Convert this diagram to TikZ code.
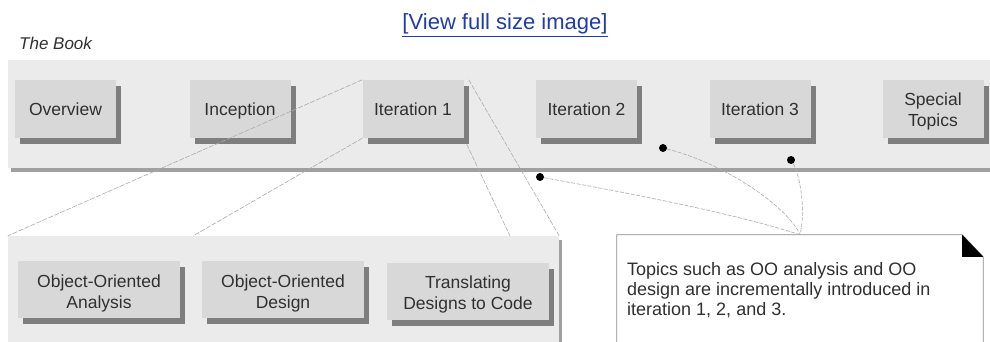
\documentclass[tikz,border=0pt]{standalone}
\usepackage{fontspec}
\setmainfont{Liberation Sans}
\usetikzlibrary{shadows}
\definecolor{band}{HTML}{EBEBEB}
\definecolor{face}{HTML}{D8D8D8}
\definecolor{shade}{HTML}{7E7E7E}
\definecolor{bandshade}{HTML}{A0A0A0}
\definecolor{ink}{HTML}{303030}
\definecolor{linkblue}{HTML}{1F3DA8}
\definecolor{conn}{HTML}{ABABAB}
\begin{document}
\begin{tikzpicture}[x=1pt,y=-1pt,
  panelstyle/.style={fill=band, inner sep=0pt, general shadow={fill=bandshade, shadow xshift=3pt, shadow yshift=-4pt}},
  boxstyle/.style={fill=face, inner sep=0pt, align=center, text=ink,
    font=\fontsize{17.5}{21}\selectfont,
    general shadow={fill=shade, shadow xshift=5pt, shadow yshift=-6pt}},
  topbox/.style={boxstyle, minimum width=101pt, minimum height=58pt},
  oneline/.style={text height=15pt, text depth=1pt},
  lowbox/.style={boxstyle, minimum width=162pt, minimum height=57pt},
  connline/.style={draw=conn, line width=0.6pt, dash pattern=on 5pt off 1.5pt},
  conncurve/.style={draw=conn, line width=0.6pt, dash pattern=on 4pt off 1.5pt},
  dotstyle/.style={circle, fill=black, inner sep=0pt, minimum size=8pt},
  notestyle/.style={inner sep=0pt, minimum width=366pt, minimum height=125pt}
]
\clip (0,0) rectangle (990,342);
\fill[white] (0,0) rectangle (990,342);

% texts at top
\node[anchor=base, inner sep=0pt, text=linkblue, font=\fontsize{22}{26}\selectfont] (link) at (505,30) {\underline{[View full size image]}};
\node[anchor=base west, inner sep=0pt, text=ink, font=\fontsize{17}{20}\selectfont\itshape] (title) at (19,50) {The Book};

% panels
\node[panelstyle, minimum width=992pt, minimum height=108pt] (band) at (504,114) {};
\node[panelstyle, general shadow={fill=bandshade, shadow xshift=3pt, shadow yshift=-5pt}, minimum width=551pt, minimum height=144pt] (lower) at (283.5,308) {};

% top row boxes
\node[topbox, oneline] (ov) at (65.5,109) {Overview};
\node[topbox, oneline] (inc) at (240,109) {Inception};
\node[topbox, oneline] (it1) at (413,109) {Iteration 1};
\node[topbox, oneline] (it2) at (586.5,109) {Iteration 2};
\node[topbox, oneline] (it3) at (760,109) {Iteration 3};
\node[topbox, text height=36pt, text depth=1.4pt] (spec) at (933,109) {Special\\Topics};

% lower row boxes
\node[lowbox, text height=39pt, text depth=1.4pt] (ooa) at (99,289.5) {Object-Oriented\\Analysis};
\node[lowbox, text height=39pt, text depth=1.4pt] (ood) at (283,289.5) {Object-Oriented\\Design};
\node[lowbox, text height=37pt, text depth=1.4pt] (trans) at (468,291.5) {Translating\\Designs to Code};

% expansion lines from Iteration 1 to the lower panel
\coordinate (p2) at (193,236);
\coordinate (p3) at (510,236);
\draw[connline] (it1.north west) -- (lower.north west);
\draw[connline] (it1.south west) -- (p2);
\draw[connline] ([xshift=5pt]it1.north east) -- (lower.north east);
\draw[connline] ([xshift=3pt,yshift=-6pt]it1.south east) -- (p3);

% note
\node[notestyle] (note) at (800,297.5) {};
\fill[white] (note.south west) -- (note.north west) -- ([xshift=-21pt]note.north east) -- ([yshift=-22pt]note.north east) -- (note.south east) -- cycle;
\draw[draw=conn!80!black, line width=0.8pt] (note.south west) -- (note.north west) -- ([xshift=-21pt]note.north east) -- ([yshift=-22pt]note.north east) -- (note.south east);
\fill[black] ([xshift=-21pt]note.north east) -- ([xshift=-21pt,yshift=-22pt]note.north east) -- ([yshift=-22pt]note.north east) -- cycle;
\node[anchor=north west, inner sep=0pt, align=left, text=ink, font=\fontsize{18}{20}\selectfont] (notetext) at (627,262.5)
  {Topics such as OO analysis and OO\\design are incrementally introduced in\\iteration 1, 2, and 3.};

% dots and curves
\node[dotstyle] (d1) at (540,177) {};
\node[dotstyle] (d2) at (663,148) {};
\node[dotstyle] (d3) at (791,160) {};
\draw[conncurve] (d1) .. controls (640,195) and (740,215) .. (note.north);
\draw[conncurve] (d2) .. controls (730,165) and (790,210) .. (note.north);
\draw[conncurve] (d3) .. controls (800,175) and (806,210) .. (note.north);
\end{tikzpicture}
\end{document}
